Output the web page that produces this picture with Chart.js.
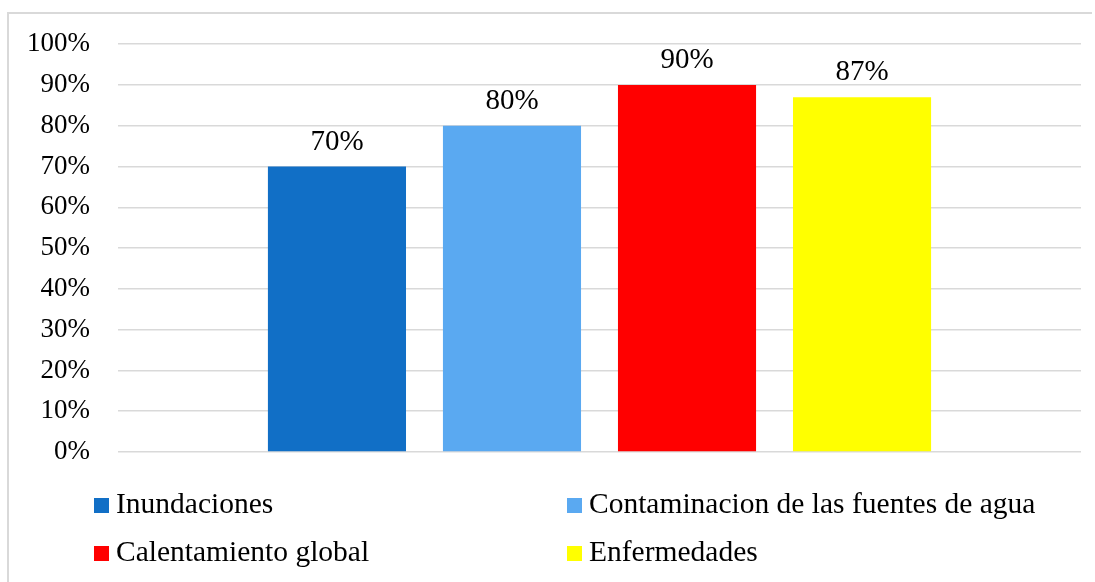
<!DOCTYPE html>
<html>
<head>
<meta charset="utf-8">
<script src="https://cdn.jsdelivr.net/npm/chart.js@4/dist/chart.umd.min.js"></script>
<style>
  html, body { margin: 0; padding: 0; background: #fff; overflow: hidden; }
  canvas { display: block; }
</style>
</head>
<body>
<canvas id="riesgosChart" width="1095" height="582"></canvas>
<script>
const labels = ["Inundaciones", "Contaminacion de las fuentes de agua", "Calentamiento global", "Enfermedades"];
const values = [70, 80, 90, 87];
const colors = ["#116fc6", "#5aa9f1", "#ff0000", "#ffff00"];
const tickValues = [0, 10, 20, 30, 40, 50, 60, 70, 80, 90, 100];

const FONT = "'Liberation Serif', 'Times New Roman', serif";

// light grey frame: top and left edges inside the canvas
const framePlugin = {
  id: "frame",
  beforeDraw(chart) {
    const ctx = chart.ctx;
    ctx.save();
    ctx.fillStyle = "#fff";
    ctx.fillRect(0, 0, chart.width, chart.height);
    ctx.fillStyle = "#d9d9d9";
    ctx.fillRect(7, 12, 2, chart.height - 12);
    ctx.fillRect(7, 12, chart.width - 10, 2);
    ctx.restore();
  }
};

// percentage written above each bar
const valueLabels = {
  id: "valueLabels",
  afterDatasetsDraw(chart) {
    const ctx = chart.ctx;
    ctx.save();
    ctx.font = "29px " + FONT;
    ctx.fillStyle = "#000";
    ctx.textAlign = "center";
    ctx.textBaseline = "alphabetic";
    chart.data.datasets.forEach((ds, i) => {
      const bar = chart.getDatasetMeta(i).data[0];
      ctx.fillText(ds.data[0] + "%", bar.x, bar.y - 17);
    });
    ctx.restore();
  }
};

// two-column legend under the plot
const gridLegend = {
  id: "gridLegend",
  afterDraw(chart) {
    const ctx = chart.ctx;
    const colX = [94, 567];
    const rowY = [513, 561];
    ctx.save();
    ctx.font = "29.5px " + FONT;
    ctx.textBaseline = "alphabetic";
    chart.data.datasets.forEach((ds, i) => {
      const x = colX[i % 2];
      const y = rowY[Math.floor(i / 2)];
      ctx.fillStyle = ds.backgroundColor;
      ctx.fillRect(x, y - 15, 15, 15);
      ctx.fillStyle = "#000";
      ctx.fillText(ds.label, x + 22, y);
    });
    ctx.restore();
  }
};

new Chart(document.getElementById("riesgosChart"), {
  type: "bar",
  data: {
    labels: [""],
    datasets: labels.map((name, i) => ({
      label: name,
      data: [values[i]],
      backgroundColor: colors[i],
      categoryPercentage: 0.727,
      barPercentage: 0.789
    }))
  },
  options: {
    responsive: false,
    animation: false,
    layout: { padding: { left: 0, top: 40, right: 14, bottom: 130 } },
    plugins: {
      legend: { display: false },
      tooltip: { enabled: false }
    },
    scales: {
      x: { display: false },
      y: {
        min: 0,
        max: 100,
        afterBuildTicks(scale) {
          scale.ticks = tickValues.map(v => ({ value: v }));
        },
        afterFit(scale) { scale.width = 118; },
        border: { display: false },
        grid: { color: "#d9d9d9", lineWidth: 1.5, drawTicks: false },
        ticks: {
          padding: 28,
          color: "#000",
          font: { family: FONT, size: 27 },
          callback: v => v + "%"
        }
      }
    }
  },
  plugins: [framePlugin, valueLabels, gridLegend]
});
</script>
</body>
</html>
